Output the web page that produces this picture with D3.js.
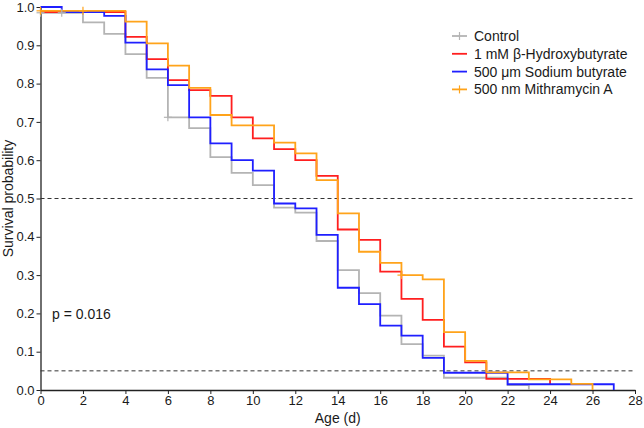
<!DOCTYPE html>
<html>
<head>
<meta charset="utf-8">
<script src="https://cdn.jsdelivr.net/npm/d3@7"></script>
<style>
  body { margin: 0; background: #fff; }
  svg text { font-family: "Liberation Sans", Arial, sans-serif; fill: #1a1a1a; }
  .axis path, .axis line { stroke: #222; }
  .axis text { font-size: 13px; }
</style>
</head>
<body>
<svg id="chart" width="644" height="428"></svg>
<script>
// survival curves (Kaplan-Meier, step after each day)
const seriesNames = ['Control', '1 mM β-Hydroxybutyrate', '500 μm Sodium butyrate', '500 nm Mithramycin A'];
const seriesColors = ['#b4b4b4', '#ff1f1f', '#1f1fff', '#ffa31a'];

const controlDays = [0, 2, 3, 4, 5, 6, 7, 8, 9, 10, 11, 12, 13, 14, 15, 16, 17, 18, 19, 22, 23];
const controlSurv = [0.985, 0.96, 0.93, 0.877, 0.815, 0.712, 0.684, 0.608, 0.567, 0.535, 0.476, 0.463, 0.389, 0.313, 0.253, 0.194, 0.12, 0.09, 0.032, 0.013, 0];

const bhbDays = [0, 4, 5, 6, 7, 8, 9, 10, 11, 12, 13, 14, 15, 16, 17, 18, 19, 20, 21, 24];
const bhbSurv = [0.987, 0.922, 0.864, 0.809, 0.783, 0.768, 0.712, 0.657, 0.629, 0.60, 0.559, 0.419, 0.392, 0.309, 0.238, 0.183, 0.113, 0.072, 0.029, 0.015];

const sbDays = [0, 1, 3, 4, 5, 6, 7, 8, 9, 10, 11, 12, 13, 14, 15, 16, 17, 18, 19, 22, 27];
const sbSurv = [1.0, 0.987, 0.977, 0.907, 0.837, 0.796, 0.712, 0.644, 0.60, 0.573, 0.487, 0.474, 0.405, 0.267, 0.224, 0.168, 0.142, 0.084, 0.045, 0.015, 0];

const mitDays = [0, 4, 5, 6, 7, 8, 9, 11, 12, 13, 14, 15, 16, 17, 18, 19, 20, 21, 23, 25, 26];
const mitSurv = [0.99, 0.962, 0.905, 0.847, 0.789, 0.718, 0.691, 0.646, 0.618, 0.548, 0.461, 0.361, 0.332, 0.30, 0.289, 0.151, 0.076, 0.046, 0.028, 0.016, 0];

// censored observations
const controlCensorDays = [0, 1, 6];
const controlCensorSurv = [0.985, 0.985, 0.712];
const mitCensorDays = [0, 2, 17];
const mitCensorSurv = [0.99, 0.99, 0.30];

const refLines = [0.5, 0.05];
const xTicks = d3.range(0, 29, 2);
const yTicks = d3.range(0, 11).map(d => d / 10);
const pValue = 'p = 0.016';

const margin = {top: 7, left: 40.5, right: 9, bottom: 38};
const width = 644, height = 428;

const svg = d3.select('#chart');

const x = d3.scaleLinear().domain([0, 28]).range([margin.left, width - margin.right]);
const y = d3.scaleLinear().domain([0, 1]).range([height - margin.bottom, margin.top]);

// axes
svg.append('g')
    .attr('class', 'axis')
    .attr('transform', 'translate(0,' + y(0) + ')')
    .call(d3.axisBottom(x).tickValues(xTicks).tickSize(4).tickSizeOuter(0).tickPadding(2))
    .call(g => g.select('.domain').attr('stroke-width', 1.3));

svg.append('g')
    .attr('class', 'axis')
    .attr('transform', 'translate(' + x(0) + ',0)')
    .call(d3.axisLeft(y).tickValues(yTicks).tickFormat(d3.format('.1f')).tickSize(4).tickSizeOuter(0).tickPadding(2))
    .call(g => g.select('.domain').attr('stroke-width', 1.3));

// reference lines
svg.append('g').selectAll('line')
    .data(refLines)
  .enter().append('line')
    .attr('x1', x(0)).attr('x2', x(28))
    .attr('y1', d => y(d)).attr('y2', d => y(d))
    .attr('stroke', '#333')
    .attr('stroke-width', 1)
    .attr('stroke-dasharray', '4,3');

// curves
const curves = [
    {days: controlDays, surv: controlSurv, color: seriesColors[0]},
    {days: bhbDays, surv: bhbSurv, color: seriesColors[1]},
    {days: sbDays, surv: sbSurv, color: seriesColors[2]},
    {days: mitDays, surv: mitSurv, color: seriesColors[3]},
];

const line = d3.line()
    .x(d => x(d[0]))
    .y(d => y(d[1]))
    .curve(d3.curveStepAfter);

svg.append('g').selectAll('path')
    .data(curves)
  .enter().append('path')
    .attr('d', c => line(c.days.map((d, i) => [d, c.surv[i]])))
    .attr('fill', 'none')
    .attr('stroke', c => c.color)
    .attr('stroke-width', 1.8);

// censor marks
function drawCensors(days, surv, color) {
    const g = svg.append('g').attr('stroke', color).attr('stroke-width', 1.2);
    days.forEach((d, i) => {
        const cx = x(d), cy = y(surv[i]);
        g.append('line').attr('x1', cx - 4).attr('x2', cx + 4).attr('y1', cy).attr('y2', cy);
        g.append('line').attr('x1', cx).attr('x2', cx).attr('y1', cy - 4).attr('y2', cy + 4);
    });
}
drawCensors(controlCensorDays, controlCensorSurv, seriesColors[0]);
drawCensors(mitCensorDays, mitCensorSurv, seriesColors[3]);

// axis titles
svg.append('text')
    .attr('x', (x(0) + x(28)) / 2)
    .attr('y', 423)
    .attr('text-anchor', 'middle')
    .style('font-size', '14px')
    .text('Age (d)');

svg.append('text')
    .attr('transform', 'translate(13,' + y(0.5) + ') rotate(-90)')
    .attr('text-anchor', 'middle')
    .style('font-size', '14px')
    .text('Survival probability');

svg.append('text')
    .attr('x', 52)
    .attr('y', 319)
    .style('font-size', '14px')
    .text(pValue);

// legend
const legend = svg.append('g').attr('transform', 'translate(452,36)');
seriesNames.forEach((name, i) => {
    const row = legend.append('g').attr('transform', 'translate(0,' + (i * 17.8) + ')');
    row.append('line')
        .attr('x1', 0).attr('x2', 15)
        .attr('stroke', seriesColors[i])
        .attr('stroke-width', 1.8);
    if (i === 0 || i === 3) {
        row.append('line')
            .attr('x1', 7.5).attr('x2', 7.5).attr('y1', -4).attr('y2', 4)
            .attr('stroke', seriesColors[i])
            .attr('stroke-width', 1.2);
    }
    row.append('text')
        .attr('x', 22)
        .attr('y', 5)
        .style('font-size', '14px')
        .text(name);
});
</script>
</body>
</html>
